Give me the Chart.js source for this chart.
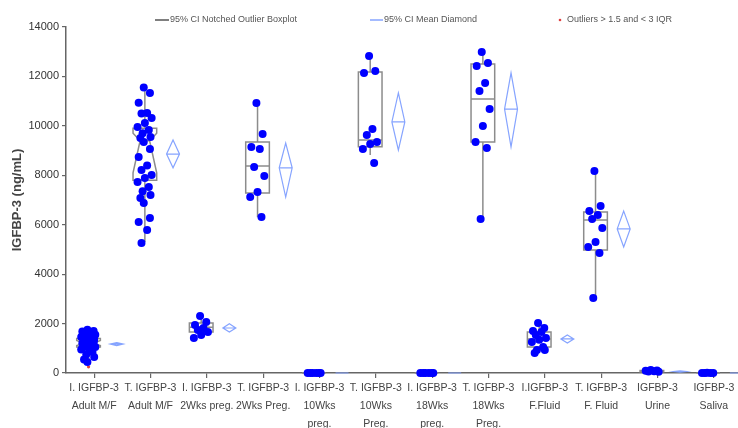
<!DOCTYPE html>
<html>
<head>
<meta charset="utf-8">
<script src="https://cdn.jsdelivr.net/npm/chart.js@4.4.1/dist/chart.umd.min.js"></script>
<style>
  html, body { margin: 0; padding: 0; background: #fff; overflow: hidden; }
  #wrap { width: 746px; height: 440px; position: relative; }
</style>
</head>
<body>
<div id="wrap"><canvas id="chart"></canvas></div>
<script>
// categorias (eje x)
const categories = [
  ['I. IGFBP-3', 'Adult M/F'],
  ['T. IGFBP-3', 'Adult M/F'],
  ['I. IGFBP-3', '2Wks preg.'],
  ['T. IGFBP-3', '2Wks Preg.'],
  ['I. IGFBP-3', '10Wks', 'preg.'],
  ['T. IGFBP-3', '10Wks', 'Preg.'],
  ['I. IGFBP-3', '18Wks', 'preg.'],
  ['T. IGFBP-3', '18Wks', 'Preg.'],
  ['I.IGFBP-3', 'F.Fluid'],
  ['T. IGFBP-3', 'F. Fluid'],
  ['IGFBP-3', 'Urine'],
  ['IGFBP-3', 'Saliva']
];
const yTickValues = [0, 2000, 4000, 6000, 8000, 10000, 12000, 14000];

// muestras individuales (ng/mL)
const iAdult = [1750, 1700, 1680, 1620, 1580, 1550, 1500, 1460, 1420, 1380, 1350, 1300, 1270, 1230, 1200, 1150, 1100, 1050, 1000, 950, 850, 750, 650, 550, 450];
const tAdult = [11550, 11330, 10930, 10520, 10500, 10320, 10120, 9950, 9830, 9700, 9550, 9510, 9350, 9060, 8740, 8400, 8210, 8010, 7890, 7730, 7530, 7350, 7200, 7080, 6880, 6270, 6110, 5790, 5260];
const i2Wks = [2310, 2060, 1940, 1820, 1740, 1660, 1540, 1420];
const t2Wks = [10920, 9670, 9140, 9060, 8340, 7970, 7320, 7120, 6310];
const i10Wks = [0, 0, 0, 0, 0, 0];
const t10Wks = [12830, 12220, 12140, 9870, 9630, 9350, 9270, 9060, 8500];
const i18Wks = [0, 0, 0, 0, 0, 0];
const t18Wks = [12990, 12540, 12420, 11730, 11410, 10680, 9990, 9350, 9100, 6230];
const iFluid = [2020, 1820, 1700, 1660, 1540, 1420, 1350, 1250, 1050, 930, 930, 810];
const tFluid = [8170, 6760, 6550, 6390, 6230, 5870, 5300, 5100, 4860, 3030];
const urine = [120, 100, 90, 70, 60, 50];
const saliva = [10, 5, 0, 0, 0];

// boxplot
const boxQ1 =       [1050, 7800, 1660, 7280, 0, 9150, 0, 9350, 1050, 4980, 50, 0];
const boxMedian =   [1200, 9400, 1850, 8380, 0, 9430, 0, 11090, 1380, 6190, 70, 0];
const boxQ3 =       [1400, 9900, 2020, 9350, 0, 12180, 0, 12500, 1660, 6510, 100, 0];
const whiskerLow =  [450, 5300, 1420, 6300, 0, 8820, 0, 6270, 810, 3080, 40, 0];
const whiskerHigh = [1750, 11450, 2300, 10900, 0, 12870, 0, 13000, 2020, 8130, 120, 0];
const notchLow =    [1110, 8100, null, null, null, null, null, null, null, null, null, null];
const notchHigh =   [1320, 9700, null, null, null, null, null, null, null, null, null, null];

// diamante de media (IC 95%)
const meanValue = [1170, 8860, 1820, 8300, 0, 10160, 0, 10680, 1380, 5830, 60, 0];
const meanCiLow = [1110, 8300, 1660, 7120, 0, 9020, 0, 9150, 1210, 5100, 30, 0];
const meanCiHigh = [1230, 9430, 1990, 9300, 0, 11330, 0, 12140, 1540, 6550, 90, 0];

// outliers > 1.5 y < 3 IQR
const outlierCategory = [0];
const outlierValue = [250];

const samples = [iAdult, tAdult, i2Wks, t2Wks, i10Wks, t10Wks, i18Wks, t18Wks, iFluid, tFluid, urine, saliva];

const FONT = '"Liberation Sans", Arial, sans-serif';
const boxShift = -0.1, boxHalf = 0.21;
const diamondShift = 0.4, diamondHalf = 0.115;
const jitter = [-0.02, 0.09, -0.11, 0.04, -0.06, 0.12, 0.0, -0.13, 0.07, -0.04, 0.1, -0.08];

const samplePoints = [];
samples.forEach((vals, i) => {
  vals.forEach((v, k) => samplePoints.push({ x: i + boxShift + jitter[k % jitter.length], y: v }));
});
const outlierPoints = outlierCategory.map((c, k) => ({ x: c + boxShift, y: outlierValue[k] }));

// Cajas
const boxPlugin = {
  id: 'boxes',
  beforeDatasetsDraw(chart) {
    const ctx = chart.ctx, xs = chart.scales.xv, ys = chart.scales.y;
    const p = v => ys.getPixelForValue(v);
    ctx.save();
    ctx.strokeStyle = '#8c8c8c';
    ctx.lineWidth = 1.5;
    categories.forEach((c, i) => {
      const cx = xs.getPixelForValue(i + boxShift);
      const half = xs.getPixelForValue(i + boxShift + boxHalf) - cx;
      const l = cx - half, r = cx + half;
      ctx.beginPath();
      ctx.moveTo(cx, p(boxQ3[i])); ctx.lineTo(cx, p(whiskerHigh[i]));
      ctx.moveTo(cx, p(boxQ1[i])); ctx.lineTo(cx, p(whiskerLow[i]));
      ctx.stroke();
      ctx.beginPath();
      if (notchLow[i] !== null) {
        const ins = half * 0.6;
        ctx.moveTo(l, p(boxQ3[i])); ctx.lineTo(r, p(boxQ3[i]));
        ctx.lineTo(r, p(notchHigh[i])); ctx.lineTo(r - ins, p(boxMedian[i]));
        ctx.lineTo(r, p(notchLow[i])); ctx.lineTo(r, p(boxQ1[i]));
        ctx.lineTo(l, p(boxQ1[i])); ctx.lineTo(l, p(notchLow[i]));
        ctx.lineTo(l + ins, p(boxMedian[i])); ctx.lineTo(l, p(notchHigh[i]));
        ctx.closePath();
        ctx.moveTo(l + ins, p(boxMedian[i])); ctx.lineTo(r - ins, p(boxMedian[i]));
      } else {
        ctx.rect(l, p(boxQ3[i]), r - l, p(boxQ1[i]) - p(boxQ3[i]));
        ctx.moveTo(l, p(boxMedian[i])); ctx.lineTo(r, p(boxMedian[i]));
      }
      ctx.stroke();
    });
    ctx.restore();
  }
};

// Diamantes
const diamondPlugin = {
  id: 'diamonds',
  afterDatasetsDraw(chart) {
    const ctx = chart.ctx, xs = chart.scales.xv, ys = chart.scales.y;
    ctx.save();
    ctx.strokeStyle = '#86a4ff';
    ctx.lineWidth = 1.2;
    categories.forEach((c, i) => {
      const cx = xs.getPixelForValue(i + diamondShift);
      const hw = xs.getPixelForValue(i + diamondShift + diamondHalf) - cx;
      const m = ys.getPixelForValue(meanValue[i]);
      ctx.beginPath();
      ctx.moveTo(cx, ys.getPixelForValue(meanCiHigh[i]));
      ctx.lineTo(cx + hw, m);
      ctx.lineTo(cx, ys.getPixelForValue(meanCiLow[i]));
      ctx.lineTo(cx - hw, m);
      ctx.closePath();
      ctx.moveTo(cx - hw, m); ctx.lineTo(cx + hw, m);
      ctx.stroke();
    });
    ctx.restore();
  }
};

// Leyenda
const legendPlugin = {
  id: 'topLegend',
  afterDraw(chart) {
    const ctx = chart.ctx, y = 20;
    ctx.save();
    ctx.font = '9px ' + FONT;
    ctx.textBaseline = 'middle';
    ctx.fillStyle = '#555';
    ctx.lineWidth = 1.5;
    ctx.strokeStyle = '#555';
    ctx.beginPath(); ctx.moveTo(155, y); ctx.lineTo(169, y); ctx.stroke();
    ctx.fillText('95% CI Notched Outlier Boxplot', 170, y);
    ctx.strokeStyle = '#86a4ff';
    ctx.beginPath(); ctx.moveTo(370, y); ctx.lineTo(383, y); ctx.stroke();
    ctx.fillText('95% CI Mean Diamond', 384, y);
    ctx.fillStyle = '#e04040';
    ctx.beginPath(); ctx.arc(560, y, 1.3, 0, Math.PI * 2); ctx.fill();
    ctx.fillStyle = '#555';
    ctx.fillText('Outliers > 1.5 and < 3 IQR', 567, y);
    ctx.restore();
  }
};

new Chart(document.getElementById('chart'), {
  type: 'scatter',
  data: {
    datasets: [
      { label: 'Samples', data: samplePoints, xAxisID: 'xv', yAxisID: 'y',
        backgroundColor: '#0000ff', borderWidth: 0, pointRadius: 4, pointHoverRadius: 4, clip: false },
      { label: 'Outliers', data: outlierPoints, xAxisID: 'xv', yAxisID: 'y',
        backgroundColor: '#e04040', borderWidth: 0, pointRadius: 1.6, pointHoverRadius: 1.6, clip: false }
    ]
  },
  options: {
    responsive: true,
    maintainAspectRatio: false,
    animation: false,
    layout: { padding: { top: 27, left: 0, right: 0, bottom: 0 } },
    plugins: { legend: { display: false }, tooltip: { enabled: false } },
    scales: {
      x: {
        type: 'category',
        labels: categories,
        offset: true,
        position: 'bottom',
        grid: { display: true, drawOnChartArea: false, drawTicks: true, tickLength: 5, color: '#666', lineWidth: 1.2 },
        border: { display: true, color: '#666', width: 1.5 },
        ticks: { autoSkip: false, maxRotation: 0, minRotation: 0, padding: 1, color: '#444',
                 font: { family: FONT, size: 10.5, lineHeight: '18px' } },
        afterFit: s => { s.height = 67; }
      },
      xv: { type: 'linear', display: false, min: -0.5, max: 11.5 },
      y: {
        type: 'linear',
        min: 0, max: 14000,
        grid: { display: true, drawOnChartArea: false, drawTicks: true, tickLength: 4, color: '#666', lineWidth: 1.2 },
        border: { display: true, color: '#666', width: 1.5 },
        ticks: { color: '#333', padding: 3, font: { family: FONT, size: 11 }, callback: v => String(v) },
        afterBuildTicks: s => { s.ticks = yTickValues.map(v => ({ value: v })); },
        title: { display: true, text: 'IGFBP-3 (ng/mL)', color: '#444', padding: { top: 10, bottom: 0 },
                 font: { family: FONT, size: 13, weight: 'bold' } },
        afterFit: s => { s.width = 66; }
      }
    }
  },
  plugins: [boxPlugin, diamondPlugin, legendPlugin]
});
</script>
</body>
</html>
